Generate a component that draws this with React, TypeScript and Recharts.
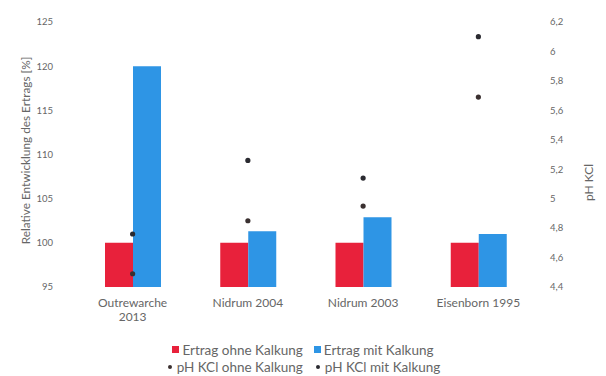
import { ComposedChart, Bar, Scatter, XAxis, YAxis, Legend } from 'recharts'

const categories = ['Outrewarche\n2013', 'Nidrum 2004', 'Nidrum 2003', 'Eisenborn 1995']
const ertragOhne = [100, 100, 100, 100]
const ertragMit = [120, 101.3, 102.9, 101]
const phOhne = [4.49, 4.85, 4.95, 5.69]
const phMit = [4.76, 5.26, 5.14, 6.1]
const leftTicks = [95, 100, 105, 110, 115, 120, 125]
const rightTicks = [4.4, 4.6, 4.8, 5, 5.2, 5.4, 5.6, 5.8, 6, 6.2]

const RED = '#E8213B'
const BLUE = '#2E95E5'
const DOT_OHNE = '#3a3030'
const DOT_MIT = '#2a2a30'
const TEXT = '#666666'
const FONT = 'Lato, sans-serif'

const data = categories.map((name, i) => ({
  name,
  ertragOhne: ertragOhne[i],
  ertragMit: ertragMit[i],
  phOhne: phOhne[i],
  phMit: phMit[i],
}))

const legendRows = [
  [
    { label: 'Ertrag ohne Kalkung', color: RED, shape: 'square' },
    { label: 'Ertrag mit Kalkung', color: BLUE, shape: 'square' },
  ],
  [
    { label: 'pH KCl ohne Kalkung', color: DOT_OHNE, shape: 'dot' },
    { label: 'pH KCl mit Kalkung', color: DOT_MIT, shape: 'dot' },
  ],
]

function CategoryTick({ x, y, payload }: any) {
  const lines = String(payload.value).split('\n')
  return (
    <text x={x} y={y} textAnchor="middle" fill={TEXT} fontSize={12} fontFamily={FONT}>
      {lines.map((line, i) => (
        <tspan key={i} x={x} dy={i === 0 ? 12 : 14}>{line}</tspan>
      ))}
    </text>
  )
}

function LeftTitle({ viewBox }: any) {
  const x = viewBox.x + 25
  const y = viewBox.y + viewBox.height / 2 - 4
  return (
    <text x={x} y={y} transform={`rotate(-90, ${x}, ${y})`} textAnchor="middle" dominantBaseline="central"
      fill={TEXT} fontSize={11.8} fontFamily={FONT}>
      Relative Entwicklung des Ertrags [%]
    </text>
  )
}

function RightTitle({ viewBox }: any) {
  const x = viewBox.x + 52
  const y = viewBox.y + viewBox.height / 2 + 28
  return (
    <text x={x} y={y} transform={`rotate(-90, ${x}, ${y})`} textAnchor="middle" dominantBaseline="central"
      fill={TEXT} fontSize={12} fontFamily={FONT}>
      pH KCl
    </text>
  )
}

function ChartLegend() {
  return (
    <div style={{ height: 49, paddingTop: 14, boxSizing: 'border-box', fontFamily: FONT, fontSize: 13.5, color: TEXT }}>
      {legendRows.map((row, r) => (
        <div key={r} style={{ display: 'flex', justifyContent: 'center', gap: 11, height: 17, alignItems: 'center' }}>
          {row.map((item) => (
            <div key={item.label} style={{ display: 'flex', alignItems: 'center', gap: 3 }}>
              {item.shape === 'square' ? (
                <span style={{ width: 7, height: 7, background: item.color, display: 'inline-block' }} />
              ) : (
                <span style={{ width: 4, height: 4, borderRadius: 2, background: item.color, display: 'inline-block', margin: '0 2px' }} />
              )}
              <span>{item.label}</span>
            </div>
          ))}
        </div>
      ))}
    </div>
  )
}

export default function App() {
  return (
    <div style={{ position: 'absolute', left: 0, top: 0, width: 606, height: 376, background: '#fff', fontFamily: FONT }}>
      <ComposedChart width={606} height={376} data={data} margin={{ top: 22, right: 0, bottom: 0, left: 0 }} barGap={0}>
        <XAxis dataKey="name" axisLine={false} tickLine={false} height={40} tick={<CategoryTick />} interval={0} />
        <YAxis
          yAxisId="left"
          orientation="left"
          width={75}
          domain={[95, 125]}
          ticks={leftTicks}
          axisLine={false}
          tickLine={false}
          tickMargin={16}
          tick={{ fill: TEXT, fontSize: 9.5, fontFamily: FONT }}
          label={{ content: LeftTitle }}
        />
        <YAxis
          yAxisId="right"
          orientation="right"
          width={70}
          domain={[4.4, 6.2]}
          ticks={rightTicks}
          axisLine={false}
          tickLine={false}
          tickMargin={8}
          tick={{ fill: TEXT, fontSize: 9.5, fontFamily: FONT, textAnchor: 'start' }}
          tickFormatter={(v: number) => String(Number(v.toFixed(1))).replace('.', ',')}
          label={{ content: RightTitle }}
        />
        <Legend verticalAlign="bottom" content={<ChartLegend />} />
        <Bar yAxisId="left" dataKey="ertragOhne" fill={RED} barSize={28} isAnimationActive={false} />
        <Bar yAxisId="left" dataKey="ertragMit" fill={BLUE} barSize={28} isAnimationActive={false} />
        <Scatter yAxisId="right" dataKey="phOhne" fill={DOT_OHNE} shape={(p: any) => <circle cx={p.cx} cy={p.cy} r={2.6} fill={DOT_OHNE} />} isAnimationActive={false} />
        <Scatter yAxisId="right" dataKey="phMit" fill={DOT_MIT} shape={(p: any) => <circle cx={p.cx} cy={p.cy} r={2.6} fill={DOT_MIT} />} isAnimationActive={false} />
      </ComposedChart>
    </div>
  )
}
